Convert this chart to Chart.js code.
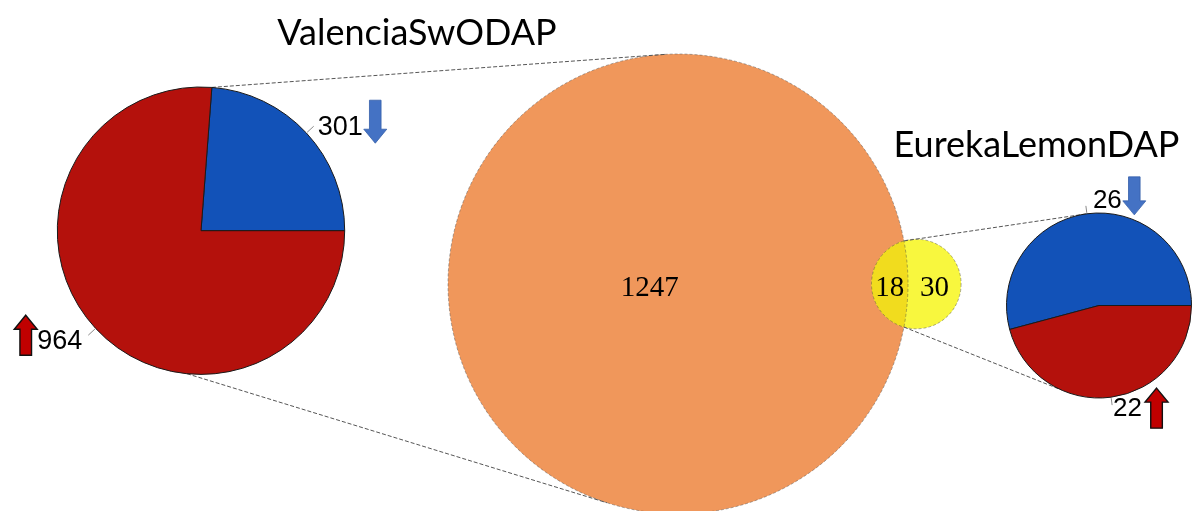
<!DOCTYPE html>
<html>
<head>
<meta charset="utf-8">
<script src="https://cdn.jsdelivr.net/npm/chart.js@4.4.1/dist/chart.umd.min.js"></script>
<style>
  html, body { margin: 0; padding: 0; background: #ffffff; }
  #stage { position: relative; width: 1192px; height: 511px; overflow: hidden; }
  #stage canvas { position: absolute; left: 0; top: 0; }
</style>
</head>
<body>
<div id="stage">
  <canvas id="venn" width="1192" height="511"></canvas>
  <canvas id="pieValencia" width="1192" height="511"></canvas>
  <canvas id="pieEureka" width="1192" height="511"></canvas>
</div>
<script>
// ---- data ----
const vennSets = ['ValenciaSwODAP', 'EurekaLemonDAP'];
const vennOnly = [1247, 30];          // proteins found only in each set
const vennShared = 18;                // proteins found in both sets
const regCategories = ['down', 'up'];
const valenciaReg = [301, 964];       // down-, up-accumulated
const eurekaReg = [26, 22];           // down-, up-accumulated

// ---- layout & style ----
const W = 1192, H = 511;
const COLORS = {
  orange: '#F0975B', yellow: '#F8F73E', lens: '#F1DC1E',
  down: '#1252B8', up: '#B4110C',
  downArrow: '#4472C4', upArrow: '#C00000'
};
// x/y scales run 0..W and 0..H, so one scale unit is one pixel
const VENN = { cx: 678, cy: 284, pxPerSqrt: 230 / Math.sqrt(1265), overlap: 36.5 };
const TITLES = [
  { x: 417, y: 45 },
  { x: 1036.5, y: 157 }
];
const PIE_GEO = [
  { cx: 201, cy: 230.7, r: 144.2 },
  { cx: 1099, cy: 305.5, r: 93 }
];
// label placement per slice (down, up)
const PIE_LABELS = [
  [
    { lead: 10, dx: 4, dy: 9, align: 'left', size: 27, arrowSide: 'after', gap: 1, arrowDy: -13.5, arrowLen: 43 },
    { lead: 10, dx: -6, dy: 14, align: 'right', size: 27, arrowSide: 'before', gap: 0, arrowDy: -14, arrowLen: 40 }
  ],
  [
    { lead: 8, dx: 7, dy: 2, align: 'left', size: 26, arrowSide: 'after', gap: 1, arrowDy: -12, arrowLen: 38 },
    { lead: 8, dx: 1, dy: 11, align: 'left', size: 26, arrowSide: 'after', gap: 3, arrowDy: -8, arrowLen: 40 }
  ]
];

const DEG = Math.PI / 180;
// point on a circle, angle measured clockwise from 12 o'clock
function onCircle(cx, cy, r, degFromTop) {
  return { x: cx + r * Math.sin(degFromTop * DEG), y: cy - r * Math.cos(degFromTop * DEG) };
}
// Chart.js arc angles (0 = 3 o'clock, radians) to degrees from 12 o'clock
function arcDeg(rad) { return rad / DEG + 90; }

function blockArrow(ctx, cx, cy, len, dir, fill, stroke, lw) {
  const hw = 11.5, sw = 5.8, hl = 14;
  ctx.save();
  ctx.translate(cx, cy);
  if (dir === 'down') ctx.scale(1, -1);
  ctx.beginPath();
  ctx.moveTo(0, -len / 2);
  ctx.lineTo(hw, -len / 2 + hl);
  ctx.lineTo(sw, -len / 2 + hl);
  ctx.lineTo(sw, len / 2);
  ctx.lineTo(-sw, len / 2);
  ctx.lineTo(-sw, -len / 2 + hl);
  ctx.lineTo(-hw, -len / 2 + hl);
  ctx.closePath();
  ctx.fillStyle = fill;
  ctx.fill();
  ctx.lineWidth = lw;
  ctx.strokeStyle = stroke;
  ctx.lineJoin = 'miter';
  ctx.stroke();
  ctx.restore();
}

// counts, leader ticks and regulation arrows beside each slice
const sliceLabels = {
  id: 'sliceLabels',
  afterDraw(chart, args, opts) {
    const ctx = chart.ctx;
    const meta = chart.getDatasetMeta(0);
    const values = chart.data.datasets[0].data;
    meta.data.forEach((arc, i) => {
      const spec = opts.specs[i];
      const mid = (arc.startAngle + arc.endAngle) / 2;
      const r = arc.outerRadius;
      const cos = Math.cos(mid), sin = Math.sin(mid);
      const p0 = { x: arc.x + (r + 1) * cos, y: arc.y + (r + 1) * sin };
      const p1 = { x: arc.x + (r + spec.lead) * cos, y: arc.y + (r + spec.lead) * sin };
      ctx.save();
      ctx.strokeStyle = '#8a8a8a';
      ctx.lineWidth = 1;
      ctx.beginPath();
      ctx.moveTo(p0.x, p0.y);
      ctx.lineTo(p1.x, p1.y);
      ctx.stroke();

      const text = String(values[i]);
      ctx.font = spec.size + 'px "Liberation Sans", Arial, sans-serif';
      ctx.fillStyle = '#000';
      ctx.textAlign = spec.align;
      ctx.textBaseline = 'alphabetic';
      const tx = p1.x + spec.dx, ty = p1.y + spec.dy;
      ctx.fillText(text, tx, ty);
      const tw = ctx.measureText(text).width;
      const left = spec.align === 'left' ? tx : tx - tw;
      const right = left + tw;
      const ax = spec.arrowSide === 'after' ? right + spec.gap + 11.5 : left - spec.gap - 11.5;
      const isUp = regCategories[i] === 'up';
      blockArrow(ctx, ax, ty + spec.arrowDy, spec.arrowLen, isUp ? 'up' : 'down',
        isUp ? COLORS.upArrow : COLORS.downArrow,
        isUp ? '#111111' : '#3560AA', isUp ? 1.4 : 0.8);
      ctx.restore();
    });
  }
};

function makePie(id, values, geo, specs) {
  const total = values.reduce((a, b) => a + b, 0);
  return new Chart(document.getElementById(id), {
    type: 'pie',
    data: {
      labels: regCategories,
      datasets: [{
        data: values,
        backgroundColor: [COLORS.down, COLORS.up],
        borderColor: '#1a1a1a',
        borderWidth: 1
      }]
    },
    options: {
      responsive: false,
      animation: false,
      events: [],
      // the down slice closes at 3 o'clock
      rotation: 90 - values[0] / total * 360,
      layout: {
        padding: {
          left: geo.cx - geo.r, top: geo.cy - geo.r,
          right: W - geo.cx - geo.r, bottom: H - geo.cy - geo.r
        }
      },
      plugins: {
        legend: { display: false },
        tooltip: { enabled: false },
        sliceLabels: { specs }
      }
    },
    plugins: [sliceLabels]
  });
}

const pies = [
  makePie('pieValencia', valenciaReg, PIE_GEO[0], PIE_LABELS[0]),
  makePie('pieEureka', eurekaReg, PIE_GEO[1], PIE_LABELS[1])
];

// ---- Venn circles (area proportional to set size) ----
const setTotals = vennOnly.map(v => v + vennShared);
const radii = setTotals.map(t => VENN.pxPerSqrt * Math.sqrt(t));
const vennPoints = [
  { x: VENN.cx, y: VENN.cy, r: radii[0] },
  { x: VENN.cx + radii[0] + radii[1] - VENN.overlap, y: VENN.cy, r: radii[1] }
];

function pieEdge(chart, degFromTop) {
  const arc = chart.getDatasetMeta(0).data[0];
  return onCircle(arc.x, arc.y, arc.outerRadius, degFromTop);
}

const vennDecor = {
  id: 'vennDecor',
  afterDatasetsDraw(chart) {
    const ctx = chart.ctx;
    const [o, y] = chart.getDatasetMeta(0).data;
    const rO = o.options.radius, rY = y.options.radius;

    // shared region
    ctx.save();
    ctx.beginPath();
    ctx.arc(o.x, o.y, rO, 0, Math.PI * 2);
    ctx.clip();
    ctx.beginPath();
    ctx.arc(y.x, y.y, rY, 0, Math.PI * 2);
    ctx.fillStyle = COLORS.lens;
    ctx.fill();
    ctx.restore();

    // faint dashed outlines
    ctx.save();
    ctx.setLineDash([3, 2]);
    ctx.lineWidth = 0.8;
    ctx.strokeStyle = 'rgba(70,70,70,0.55)';
    [[o, rO], [y, rY]].forEach(([p, r]) => {
      ctx.beginPath();
      ctx.arc(p.x, p.y, r, 0, Math.PI * 2);
      ctx.stroke();
    });
    ctx.restore();

    // intersection points of the two circles
    const d = y.x - o.x;
    const a = (rO * rO - rY * rY + d * d) / (2 * d);
    const h = Math.sqrt(Math.max(rO * rO - a * a, 0));
    const lensTop = { x: o.x + a, y: o.y - h };
    const lensBottom = { x: o.x + a, y: o.y + h };

    // zoom lines from the circles to the regulation pies
    const valArc = pies[0].getDatasetMeta(0).data[0];
    const eurArc = pies[1].getDatasetMeta(0).data[0];
    const eurDownMid = arcDeg((eurArc.startAngle + eurArc.endAngle) / 2);
    const lines = [
      [pieEdge(pies[0], arcDeg(valArc.startAngle)), onCircle(o.x, o.y, rO, -3)],
      [pieEdge(pies[0], 185.6), onCircle(o.x, o.y, rO, 198)],
      [lensTop, pieEdge(pies[1], eurDownMid)],
      [lensBottom, pieEdge(pies[1], 205)]
    ];
    ctx.save();
    ctx.setLineDash([4, 2]);
    ctx.lineWidth = 1;
    ctx.strokeStyle = '#555555';
    lines.forEach(([p, q]) => {
      ctx.beginPath();
      ctx.moveTo(p.x, p.y);
      ctx.lineTo(q.x, q.y);
      ctx.stroke();
    });
    ctx.restore();

    // region counts
    ctx.save();
    ctx.font = '29px "Liberation Serif", "Times New Roman", serif';
    ctx.fillStyle = '#000';
    ctx.textAlign = 'center';
    ctx.textBaseline = 'alphabetic';
    const base = o.y + 12;
    const oLeft = o.x - rO, oRight = o.x + rO, yLeft = y.x - rY, yRight = y.x + rY;
    ctx.fillText(String(vennOnly[0]), (oLeft + yLeft) / 2 - 10, base);
    ctx.fillText(String(vennShared), (yLeft + oRight) / 2, base);
    ctx.fillText(String(vennOnly[1]), (oRight + yRight) / 2, base);

    // set names
    ctx.font = '36px Lato, "Open Sans", sans-serif';
    vennSets.forEach((name, i) => ctx.fillText(name, TITLES[i].x, TITLES[i].y));
    ctx.restore();
  }
};

new Chart(document.getElementById('venn'), {
  type: 'bubble',
  data: {
    datasets: [{
      label: 'sets',
      data: vennPoints,
      backgroundColor: [COLORS.orange, COLORS.yellow],
      borderWidth: 0,
      clip: false,
      hoverRadius: 0
    }]
  },
  options: {
    responsive: false,
    animation: false,
    events: [],
    layout: { padding: 0, autoPadding: false },
    scales: {
      x: { type: 'linear', min: 0, max: W, display: false },
      y: { type: 'linear', min: 0, max: H, reverse: true, display: false }
    },
    plugins: { legend: { display: false }, tooltip: { enabled: false } }
  },
  plugins: [vennDecor]
});
</script>
</body>
</html>
